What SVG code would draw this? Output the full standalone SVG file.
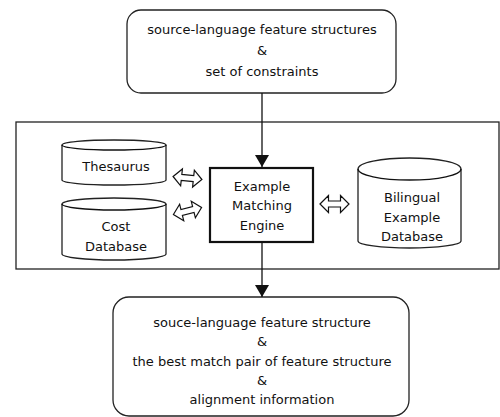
<svg xmlns="http://www.w3.org/2000/svg" width="500" height="417" viewBox="0 0 500 417">
<style>
text{font-family:"DejaVu Sans","Liberation Sans",sans-serif;font-size:13px;fill:#111;text-anchor:middle}
.b{fill:#fff;stroke:#222;stroke-width:1.3}
.c{stroke:#111;stroke-width:1.3;fill:none}
.da{fill:#fff;stroke:#111;stroke-width:1.2;stroke-linejoin:miter}
</style>
<defs>
<marker id="ah" viewBox="0 0 12 14" refX="12" refY="7" markerWidth="12" markerHeight="14" markerUnits="userSpaceOnUse" orient="auto">
<path d="M0,0 L12,7 L0,14 z" fill="#111"/>
</marker>
<path id="dbl" d="M-14.5,0 L-6,-8.5 L-6,-3 L6,-3 L6,-8.5 L14.5,0 L6,8.5 L6,3 L-6,3 L-6,8.5 z"/>
</defs>
<rect id="panel" x="16" y="122" width="483" height="147" fill="none" stroke="#222" stroke-width="1.3"/>
<g id="source">
<rect class="b" x="127" y="10" width="269" height="83" rx="14"/>
<text x="262" y="34">source-language feature structures</text>
<text x="262" y="55">&amp;</text>
<text x="262" y="76">set of constraints</text>
</g>
<g id="thesaurus">
<path class="b" d="M62,145 A52,5 0 0 1 166,145 L166,180 A52,5 0 0 1 62,180 Z"/>
<path class="c" d="M62,145 A52,5 0 0 0 166,145"/>
<text x="116" y="171">Thesaurus</text>
</g>
<g id="cost">
<path class="b" d="M62,204 A52,6 0 0 1 166,204 L166,254 A52,6 0 0 1 62,254 Z"/>
<path class="c" d="M62,204 A52,6 0 0 0 166,204"/>
<text x="116" y="231">Cost</text>
<text x="116" y="251">Database</text>
</g>
<g id="engine">
<rect x="210" y="168" width="103" height="74" fill="#fff" stroke="#111" stroke-width="2.2"/>
<text x="262" y="191">Example</text>
<text x="262" y="210">Matching</text>
<text x="262" y="230">Engine</text>
</g>
<g id="bilingual">
<path class="b" d="M358,169 A51.5,11 0 0 1 461,169 L461,241 A51.5,7 0 0 1 358,241 Z"/>
<path class="c" d="M358,169 A51.5,11 0 0 0 461,169"/>
<text x="412" y="202">Bilingual</text>
<text x="412" y="222">Example</text>
<text x="412" y="241">Database</text>
</g>
<g id="result">
<rect class="b" x="113" y="297" width="296" height="119" rx="16"/>
<text x="262" y="327">souce-language feature structure</text>
<text x="262" y="346">&amp;</text>
<text x="262" y="366">the best match pair of feature structure</text>
<text x="262" y="385">&amp;</text>
<text x="262" y="404">alignment information</text>
</g>
<g id="connectors">
<line class="c" x1="262" y1="93" x2="262" y2="167" marker-end="url(#ah)"/>
<line class="c" x1="262" y1="242" x2="262" y2="297" marker-end="url(#ah)"/>
<use href="#dbl" class="da" transform="translate(187.5,178) rotate(6)"/>
<use href="#dbl" class="da" transform="translate(187.5,211) rotate(-14)"/>
<use href="#dbl" class="da" transform="translate(334.5,204)"/>
</g>
</svg>
